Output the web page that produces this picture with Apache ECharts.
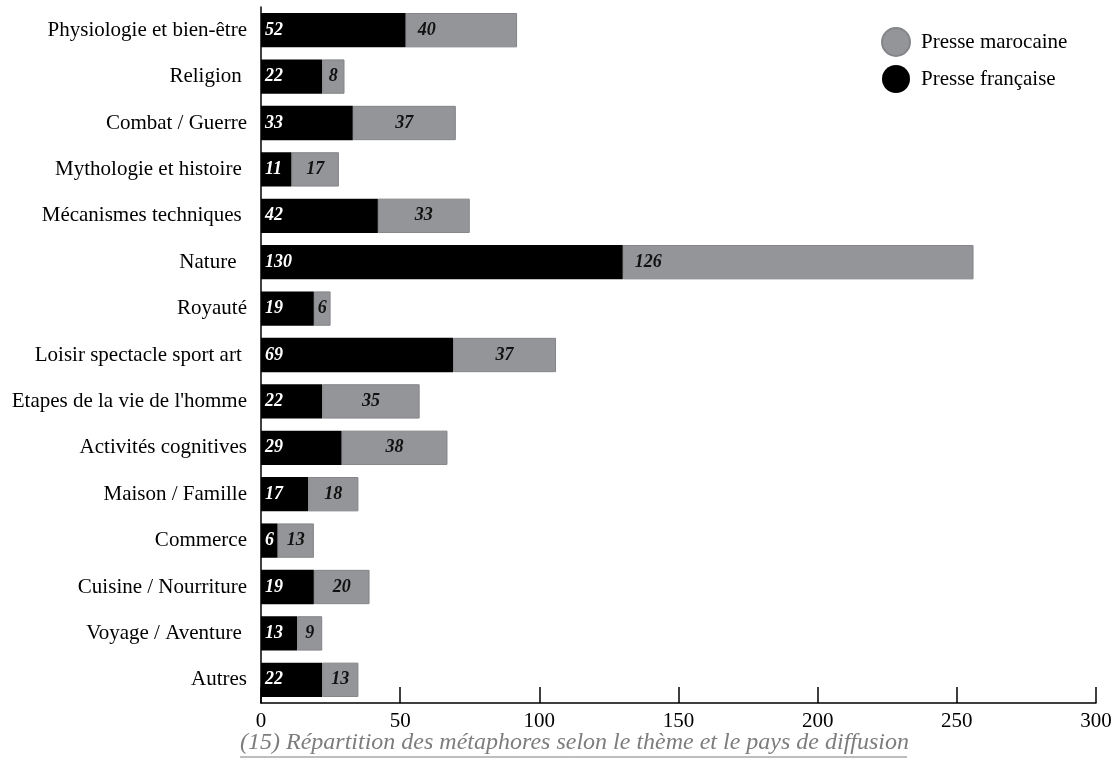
<!DOCTYPE html>
<html>
<head>
<meta charset="utf-8">
<script src="https://cdn.jsdelivr.net/npm/echarts@6/dist/echarts.min.js"></script>
<style>
html,body{margin:0;padding:0;background:#fff;}
#chart{width:1116px;height:765px;}
</style>
</head>
<body>
<div id="chart"></div>
<script>
var categories = [
  "Physiologie et bien-être",
  "Religion ",
  "Combat / Guerre",
  "Mythologie et histoire ",
  "Mécanismes techniques ",
  "Nature  ",
  "Royauté",
  "Loisir spectacle sport art ",
  "Etapes de la vie de l'homme",
  "Activités cognitives",
  "Maison / Famille",
  "Commerce",
  "Cuisine / Nourriture",
  "Voyage / Aventure ",
  "Autres"
];
var presseFrancaise = [52, 22, 33, 11, 42, 130, 19, 69, 22, 29, 17, 6, 19, 13, 22];
var presseMarocaine = [40, 8, 37, 17, 33, 126, 6, 37, 35, 38, 18, 13, 20, 9, 13];
var xTicks = [0, 50, 100, 150, 200, 250, 300];
var caption = "(15) Répartition des métaphores selon le thème et le pays de diffusion";

var FONT = "'Liberation Serif', 'Times New Roman', serif";
var chart = echarts.init(document.getElementById('chart'), null, {renderer: 'canvas'});

var greyData = presseMarocaine.map(function (v) {
  return v >= 40 ? {value: v, label: {position: 'insideLeft', distance: 12}} : v;
});

var option = {
  backgroundColor: '#ffffff',
  animation: false,
  textStyle: {fontFamily: FONT},
  grid: {left: 261, right: 20, top: 7, bottom: 62, containLabel: false},
  legend: {
    orient: 'vertical',
    left: 881,
    top: 27,
    padding: 0,
    itemGap: 8,
    itemWidth: 28,
    itemHeight: 28,
    icon: 'circle',
    data: ['Presse marocaine', 'Presse française'],
    textStyle: {fontFamily: FONT, fontSize: 21, color: '#000', padding: [0, 0, 0, 6]}
  },
  xAxis: {
    type: 'value',
    min: xTicks[0],
    max: xTicks[xTicks.length - 1],
    interval: xTicks[1] - xTicks[0],
    axisLine: {show: true, lineStyle: {color: '#000', width: 1.5}},
    axisTick: {show: true, inside: true, length: 16, lineStyle: {color: '#000', width: 1.5}},
    splitLine: {show: false},
    axisLabel: {fontFamily: FONT, fontSize: 21, color: '#000', margin: 8}
  },
  yAxis: {
    type: 'category',
    inverse: true,
    data: categories,
    axisLine: {show: true, lineStyle: {color: '#000', width: 1.5}},
    axisTick: {show: false},
    axisLabel: {fontFamily: FONT, fontSize: 21, color: '#000', margin: 14}
  },
  series: [
    {
      name: 'Presse française',
      type: 'bar',
      stack: 'total',
      barCategoryGap: '26%',
      data: presseFrancaise,
      itemStyle: {color: '#000000'},
      label: {
        show: true, position: 'insideLeft', distance: 4,
        color: '#ffffff', fontFamily: FONT, fontSize: 18,
        fontWeight: 'bold', fontStyle: 'italic'
      }
    },
    {
      name: 'Presse marocaine',
      type: 'bar',
      stack: 'total',
      barCategoryGap: '26%',
      data: greyData,
      itemStyle: {color: '#939598', borderColor: '#848588', borderWidth: 1},
      label: {
        show: true, position: 'inside',
        color: '#111111', fontFamily: FONT, fontSize: 18,
        fontWeight: 'bold', fontStyle: 'italic'
      }
    }
  ],
  graphic: [
    {
      type: 'text',
      left: 240,
      top: 731,
      style: {
        text: caption,
        fontFamily: FONT,
        fontSize: 24,
        fontStyle: 'italic',
        fill: '#7d7d7d'
      }
    },
    {
      type: 'line',
      shape: {x1: 240, y1: 757, x2: 907, y2: 757},
      style: {stroke: '#7d7d7d', lineWidth: 1}
    }
  ]
};
chart.setOption(option);
</script>
</body>
</html>
